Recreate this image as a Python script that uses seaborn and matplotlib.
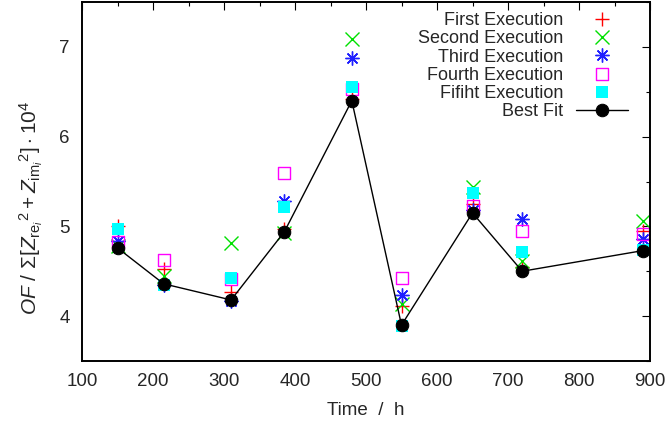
import matplotlib
matplotlib.use("Agg")
import matplotlib.pyplot as plt
from matplotlib.path import Path
from matplotlib.ticker import MultipleLocator
import seaborn as sns

# Objective function per execution, sampled at each ageing time
time_h = [150, 215, 310, 385, 480, 550, 650, 720, 890]
first_exec = [5.00, 4.53, 4.27, 4.97, 6.42, 4.11, 5.25, 4.55, 4.95]
second_exec = [4.78, 4.45, 4.82, 4.93, 7.09, 4.14, 5.44, 4.61, 5.06]
third_exec = [4.84, 4.35, 4.17, 5.28, 6.88, 4.24, 5.18, 5.08, 4.86]
fourth_exec = [4.83, 4.63, 4.41, 5.60, 6.53, 4.42, 5.23, 4.95, 4.91]
fifth_exec = [4.97, 4.35, 4.42, 5.22, 6.55, 3.89, 5.37, 4.71, 4.74]
best_fit = [4.76, 4.36, 4.18, 4.94, 6.40, 3.90, 5.15, 4.50, 4.73]

series_labels = ["First Execution", "Second Execution", "Third Execution",
                 "Fourth Execution", "Fifiht Execution", "Best Fit"]

sns.set_theme(style="white")
plt.rcParams["font.family"] = ["Liberation Sans", "DejaVu Sans"]
plt.rcParams["mathtext.fontset"] = "custom"
plt.rcParams["mathtext.rm"] = "Liberation Sans"
plt.rcParams["mathtext.it"] = "Liberation Sans:italic"
plt.rcParams["mathtext.bf"] = "Liberation Sans:bold"

# open square with a centre dot
dotted_square = Path(
    [(-1, -1), (1, -1), (1, 1), (-1, 1), (-1, -1),
     (-0.07, -0.07), (0.07, -0.07), (0.07, 0.07), (-0.07, 0.07), (-0.07, -0.07)],
    [Path.MOVETO, Path.LINETO, Path.LINETO, Path.LINETO, Path.CLOSEPOLY,
     Path.MOVETO, Path.LINETO, Path.LINETO, Path.LINETO, Path.CLOSEPOLY])

fig = plt.figure(figsize=(6.7, 4.25), dpi=100)
ax = fig.add_axes([82 / 670, 1 - 361 / 425, 568 / 670, 359 / 425])

sns.lineplot(x=time_h, y=first_exec, ax=ax, marker="+", linestyle="",
             color="#ff0000", mec="#ff0000", ms=10, mew=1.0, label=series_labels[0])
sns.lineplot(x=time_h, y=second_exec, ax=ax, marker="x", linestyle="",
             color="#00e000", mec="#00e000", ms=10, mew=1.0, label=series_labels[1])
sns.lineplot(x=time_h, y=third_exec, ax=ax, marker=(8, 2, 0), linestyle="",
             color="#1f1fff", mec="#1f1fff", ms=10, mew=1.0, label=series_labels[2])
sns.lineplot(x=time_h, y=fourth_exec, ax=ax, marker=dotted_square, linestyle="",
             color="#ff00ff", mec="#ff00ff", mfc="none", ms=8.4, mew=1.0,
             label=series_labels[3])
sns.lineplot(x=time_h, y=fifth_exec, ax=ax, marker="s", linestyle="",
             color="#00ffff", mec="#00ffff", mfc="#00ffff", ms=9.2, mew=0,
             label=series_labels[4])
sns.lineplot(x=time_h, y=best_fit, ax=ax, marker="o", linestyle="-",
             color="black", mec="black", mfc="black", ms=9, lw=1.0,
             label=series_labels[5])

ax.set_xlim(100, 900)
ax.set_ylim(3.5, 7.5)
ax.xaxis.set_major_locator(MultipleLocator(100))
ax.xaxis.set_minor_locator(MultipleLocator(50))
ax.yaxis.set_major_locator(MultipleLocator(1))
ax.yaxis.set_minor_locator(MultipleLocator(0.5))
ax.tick_params(which="both", direction="in", top=True, right=True,
               color="black", width=0.8, labelsize=13.5)
ax.tick_params(axis="x", which="major", length=6, pad=9)
ax.tick_params(axis="y", which="major", length=6, pad=9)
ax.tick_params(which="minor", length=3)
for spine in ax.spines.values():
    spine.set_color("black")
    spine.set_linewidth(1.4)

ax.set_xlabel("Time  /  h", fontsize=13.5, labelpad=8)
ax.set_ylabel(r"$OF$ / $\Sigma[Z_{\mathrm{re}_i}{}^{2}+Z_{\mathrm{im}_i}{}^{2}]\cdot10^{4}$",
              fontsize=15)
ax.yaxis.set_label_coords(-0.065, 0.426)

leg = ax.legend(loc="upper right", bbox_to_anchor=(0.961, 0.972),
                frameon=False, markerfirst=False, fontsize=13,
                handlelength=2.85, handletextpad=0.72, labelspacing=0.07,
                borderpad=0, borderaxespad=0)

fig.savefig("out.png", dpi=100)
